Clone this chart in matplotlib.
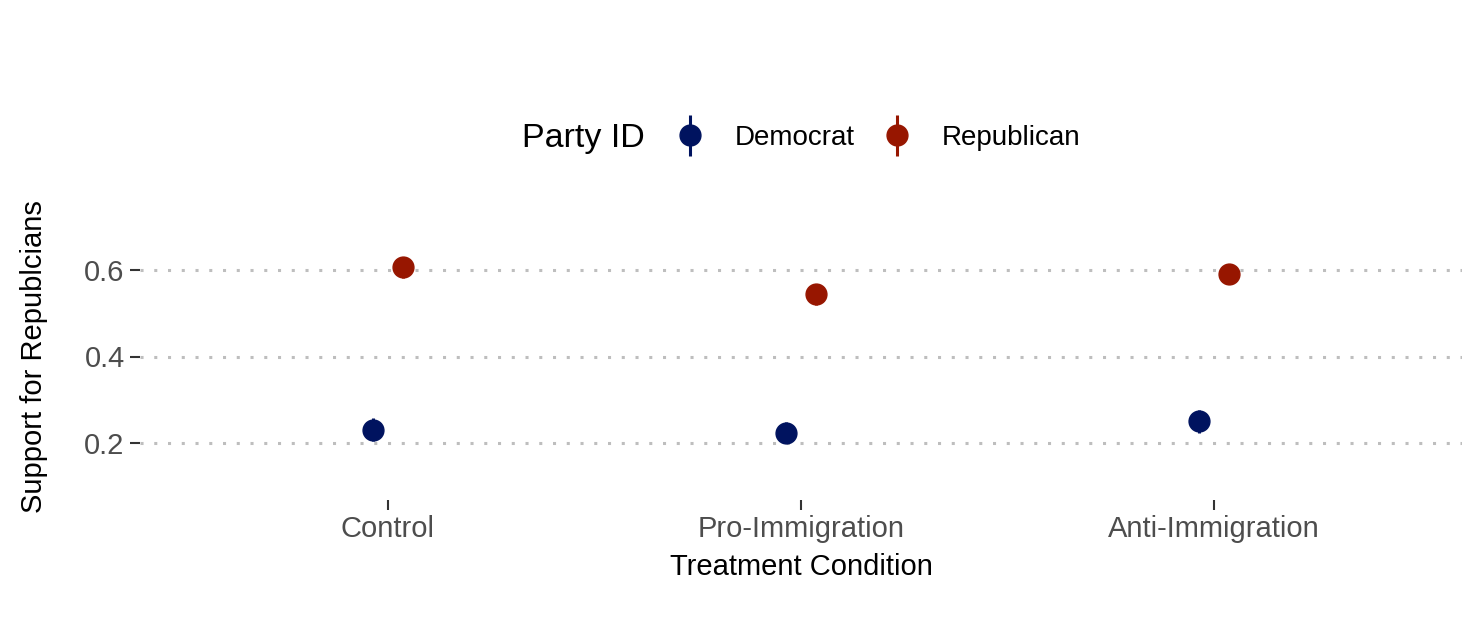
import numpy as np
import matplotlib.pyplot as plt
from matplotlib.legend_handler import HandlerErrorbar

plt.rcParams['font.family'] = ['Liberation Sans', 'DejaVu Sans']

conditions = ["Control", "Pro-Immigration", "Anti-Immigration"]
parties = ["Democrat", "Republican"]
dem_mean = [0.232, 0.225, 0.251]
dem_ci = [0.026, 0.025, 0.027]
rep_mean = [0.605, 0.543, 0.589]
rep_ci = [0.024, 0.024, 0.023]
colors = {"Democrat": "#00135F", "Republican": "#971600"}

fig = plt.figure(figsize=(14.8, 6.29), dpi=100)
ax = fig.add_axes([140 / 1480, 1 - 500 / 629, (1462 - 140) / 1480, (500 - 213) / 629])

x = np.arange(1, len(conditions) + 1)
offset = 0.037
bars = []
for party, means, cis, sign in [("Democrat", dem_mean, dem_ci, -1),
                                ("Republican", rep_mean, rep_ci, 1)]:
    eb = ax.errorbar(x + sign * offset, means, yerr=cis, fmt='o', color=colors[party],
                     markersize=15, elinewidth=2.2, capsize=0, zorder=3)
    bars.append(eb)

ax.set_xlim(0.4, 3.6)
ax.set_ylim(0.07, 0.73)
ax.set_yticks([0.2, 0.4, 0.6])
ax.set_yticklabels(["0.2", "0.4", "0.6"])
ax.set_xticks(x)
ax.set_xticklabels(conditions)
ax.yaxis.grid(True, linestyle=(0, (1, 3.5)), color="#BEBEBE", linewidth=2.2, zorder=0)
ax.xaxis.grid(False)
for s in ax.spines.values():
    s.set_visible(False)
ax.tick_params(axis='both', colors="#333333", labelcolor="#4D4D4D", labelsize=21,
               length=7, width=1.5, pad=4)
ax.set_xlabel("Treatment Condition", fontsize=21, labelpad=7)
ax.set_ylabel("Support for Republcians", fontsize=21, labelpad=26.5)

# legend on top: title as plain text, entries in one row
fig.text(522 / 1480, 1 - 138 / 629, "Party ID", fontsize=24.5, ha='left', va='center')
leg = fig.legend(bars, parties, loc='center left',
                 bbox_to_anchor=(676 / 1480, 1 - 138 / 629), ncol=2, frameon=False,
                 fontsize=20, handlelength=1.0, handletextpad=1.1,
                 columnspacing=1.05, borderpad=0, borderaxespad=0,
                 handler_map={type(bars[0]): HandlerErrorbar(xerr_size=0, yerr_size=0.74)})

fig.savefig("out.png", dpi=100)
